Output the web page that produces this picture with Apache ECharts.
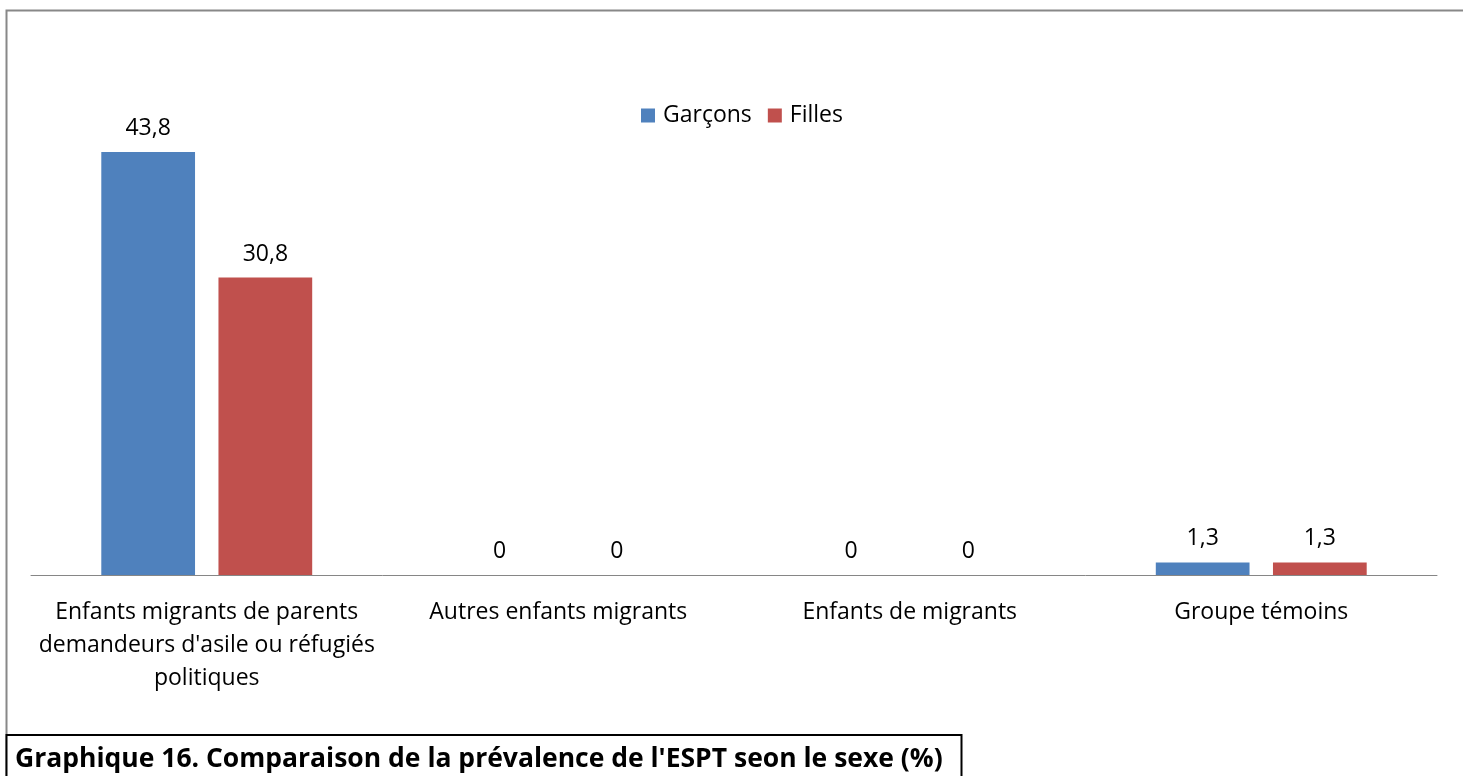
<!DOCTYPE html>
<html><head><meta charset="utf-8">
<script src="https://cdn.jsdelivr.net/npm/echarts@6/dist/echarts.min.js"></script>
<style>html,body{margin:0;padding:0;background:#fff}#c{width:1463px;height:776px}</style>
</head><body><div id="c"></div>
<script>
const categories = [
  "Enfants migrants de parents\ndemandeurs d'asile ou réfugiés\npolitiques",
  "Autres enfants migrants",
  "Enfants de migrants",
  "Groupe témoins"
];
const garcons = [43.8, 0, 0, 1.3];
const filles = [30.8, 0, 0, 1.3];
const seriesNames = ["Garçons", "Filles"];
const caption = "Graphique 16. Comparaison de la prévalence de l'ESPT seon le sexe (%)";

const FONT = "Open Sans";
const chart = echarts.init(document.getElementById('c'), null, {renderer: 'canvas'});
const lbl = {
  show: true, position: 'top', distance: 12, color: '#000', fontFamily: FONT, fontSize: 23,
  formatter: p => String(p.value).replace('.', ',')
};
chart.setOption({
  animation: false,
  textStyle: {fontFamily: FONT},
  legend: {
    data: seriesNames, left: 636, top: 99, itemWidth: 14, itemHeight: 14, itemGap: 16,
    icon: 'rect', textStyle: {fontFamily: FONT, fontSize: 23, color: '#000', padding: [0,0,0,3]}
  },
  grid: {left: 31, right: 26, top: 92, bottom: 201, containLabel: false},
  xAxis: {
    type: 'category', data: categories,
    axisLine: {lineStyle: {color: '#868686', width: 1}},
    axisTick: {show: false},
    axisLabel: {color: '#000', fontFamily: FONT, fontSize: 23, lineHeight: 33, margin: 21, interval: 0}
  },
  yAxis: {type: 'value', min: 0, max: 50, show: false, splitLine: {show: false}},
  series: [
    {name: seriesNames[0], type: 'bar', data: garcons, itemStyle: {color: '#4F81BD'},
     barGap: '25%', barCategoryGap: '40%', label: lbl},
    {name: seriesNames[1], type: 'bar', data: filles, itemStyle: {color: '#C0504D'},
     label: lbl}
  ],
  graphic: [
    {type: 'rect', shape: {x: 6.5, y: 10.5, width: 1500, height: 800}, style: {fill: 'none', stroke: '#888', lineWidth: 2}},
    {type: 'rect', shape: {x: 6.5, y: 735, width: 955, height: 60}, style: {fill: '#fff', stroke: '#000', lineWidth: 2}},
    {type: 'text', left: 15, top: 746, style: {text: caption, font: 'bold 26.5px "Open Sans"', fill: '#000'}}
  ]
});
</script></body></html>
